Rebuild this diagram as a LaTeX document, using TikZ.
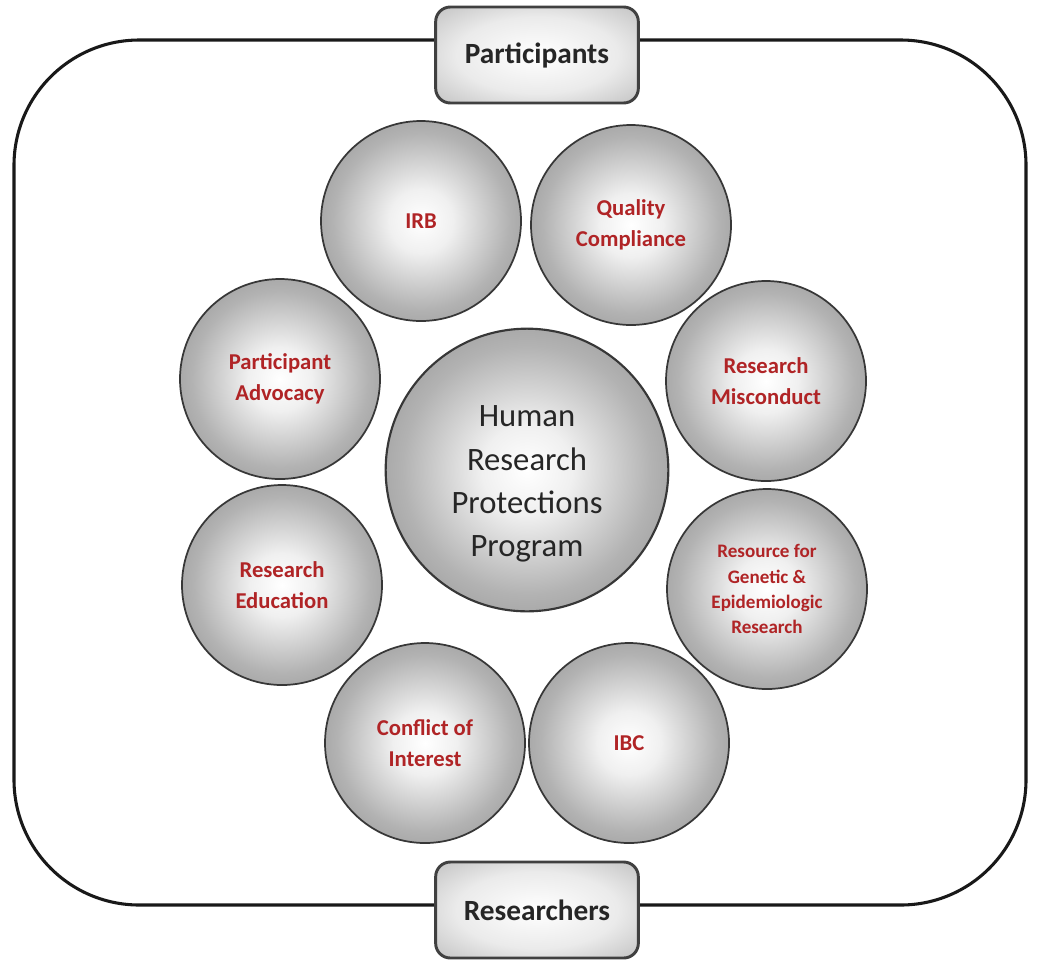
\documentclass[tikz,border=0pt]{standalone}
\usepackage{fontspec}
\setmainfont{Carlito}
\definecolor{lblred}{RGB}{176,36,38}
\definecolor{rimgray}{RGB}{55,55,55}
\pgfdeclareradialshading{ballsh}{\pgfpoint{0bp}{0bp}}{%
  color(0bp)=(white); color(8bp)=(black!6); color(22bp)=(black!30);
  color(38bp)=(black!48); color(47bp)=(black!62); color(50bp)=(black!50)}
\pgfdeclareradialshading{boxsh}{\pgfpoint{0bp}{0bp}}{%
  color(0bp)=(white); color(20bp)=(black!8); color(40bp)=(black!28);
  color(55bp)=(black!45); color(72bp)=(black!55)}
\tikzset{
  ball/.style={circle, draw=rimgray, line width=1.3pt, shading=ballsh,
    minimum size=150pt, inner sep=0pt},
  bigball/.style={ball, minimum size=212pt, line width=1.6pt},
  smalltxt/.style={align=center, text=lblred, font=\bfseries\fontsize{17}{23.5}\selectfont},
  tinytxt/.style={align=center, text=lblred, font=\bfseries\fontsize{14.3}{18.8}\selectfont},
  bigtxt/.style={align=center, text=black!85, font=\fontsize{24.5}{32.5}\selectfont},
  labelbox/.style={draw=black!75, line width=2.2pt, rounded corners=11pt,
    shading=boxsh, minimum width=152pt, minimum height=72pt,
    font=\bfseries\fontsize{22}{24}\selectfont, text=black!85},
  frame/.style={draw=black!90, line width=2.3pt, rounded corners=94pt}
}
\begin{document}
\begin{tikzpicture}[x=0.75pt,y=-0.75pt]
\useasboundingbox (0,0) rectangle (1038,961);
\fill[white] (0,0) rectangle (1038,961);
\draw[frame] (14,40) rectangle (1026,905);
\node[labelbox] (part) at (537,55) {Participants};
\node[labelbox] (res) at (537,910) {Researchers};
% central circle
\node[bigball] (hrpp) at (527,470) {};
\node[bigtxt] (hrppt) at (527,484) {Human\\Research\\Protections\\Program};
% surrounding circles
\node[ball, smalltxt] (irb) at (421,221) {IRB};
\node[ball, smalltxt] (qc) at (631,225) {Quality\\Compliance};
\node[ball, smalltxt] (rm) at (766,381) {Research\\Misconduct};
\node[ball, tinytxt] (rge) at (767,589) {Resource for\\Genetic \&\\Epidemiologic\\Research};
\node[ball, smalltxt] (ibc) at (629,743) {IBC};
\node[ball, smalltxt] (coi) at (425,743) {Conflict of\\Interest};
\node[ball, smalltxt] (re) at (282,585) {Research\\Education};
\node[ball, smalltxt] (pa) at (280,379) {Participant\\Advocacy};
\end{tikzpicture}
\end{document}
